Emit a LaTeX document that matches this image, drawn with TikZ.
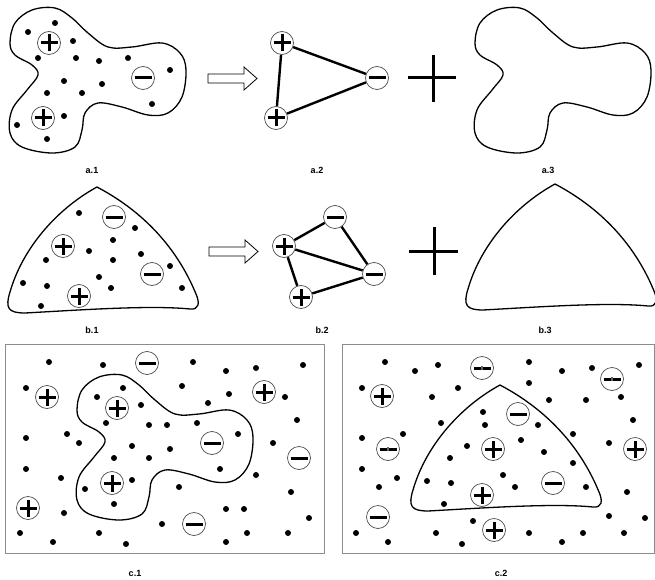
\documentclass[tikz,border=0pt]{standalone}
\usepackage{fontspec}
\setmainfont{Liberation Sans}
\newcommand{\blobshape}{plot[smooth cycle, tension=0.6] coordinates {(10,43) (15,23) (32,10) (55,8) (72,18) (88,33) (108,47) (132,47) (162,43) (180,53) (186,70) (182,97) (168,113) (148,115) (122,107) (98,103) (85,113) (82,130) (75,147) (52,153) (22,147) (10,133) (12,110) (27,90) (38,75) (32,65) (15,55)}}
\newcommand{\trishape}{(97,187) .. controls (55,210) and (22,250) .. (10,292) .. controls (5,308) and (8,313) .. (25,313) .. controls (80,310) and (150,305) .. (190,309) .. controls (199,310) and (200,303) .. (196,294) .. controls (180,255) and (150,215) .. (97,187) -- cycle}
\tikzset{
  charge/.style={circle, draw=black!70, line width=0.7pt, minimum size=23pt, inner sep=0pt, fill=white},
  signbar/.style={draw, line width=3pt, line cap=butt},
  poscharge/.style={charge, append after command={([xshift=-8.5pt]\tikzlastnode.center) edge[signbar] ([xshift=8.5pt]\tikzlastnode.center) ([yshift=-8.5pt]\tikzlastnode.center) edge[signbar] ([yshift=8.5pt]\tikzlastnode.center)}},
  negcharge/.style={charge, append after command={([xshift=-8.5pt]\tikzlastnode.center) edge[signbar] ([xshift=8.5pt]\tikzlastnode.center)}},
  negmark/.style={negcharge, append after command={([yshift=-2pt]\tikzlastnode.center) edge[draw, line width=1.2pt, black!60] ([yshift=2pt]\tikzlastnode.center)}},
  outline/.style={line width=1.3pt},
  bond/.style={line width=2.4pt},
  bigplus/.style={line width=3pt},
  hollowarrow/.style={draw, line width=0.8pt, fill=white},
  frame/.style={draw=black!45, line width=0.9pt},
  caption/.style={font=\fontsize{9}{10}\selectfont\bfseries, inner sep=0pt}
}
\begin{document}
\begin{tikzpicture}[x=1pt, y=-1pt]
	\useasboundingbox (0,0) rectangle (655,580);

	% a.1
	\draw[outline] \blobshape;
	\foreach \p in {(28,32),(55,23),(73,41),(38,58),(76,58),(99,61),(128,58),(170,70),(64,81),(102,84),(47,93),(82,93),(152,104),(64,116),(17,125),(47,139)}
		\fill \p circle (3);
	\node[poscharge] (aonep) at (49,43) {};
	\node[negcharge] (aonen) at (143,78) {};
	\node[poscharge] (aoneq) at (43,118) {};
	\node[caption] (capaone) at (92,170) {a.1};

	% a.2
	\draw[hollowarrow] (208,74) -- (244,74) -- (244,67) -- (257,78.5) -- (244,90) -- (244,83) -- (208,83) -- cycle;
	\node[poscharge] (atwop) at (282,43) {};
	\node[negcharge] (atwon) at (377,78) {};
	\node[poscharge] (atwoq) at (276,118) {};
	\draw[bond] (atwop) -- (atwon);
	\draw[bond] (atwoq) -- (atwon);
	\draw[bond] (atwop) -- (atwoq);
	\node[caption] (capatwo) at (317,170) {a.2};
	\draw[bigplus] (408,78) -- (456,78) (433,55) -- (433,102);

	% a.3
	\begin{scope}[shift={(465,0)}]
		\draw[outline] \blobshape;
	\end{scope}
	\node[caption] (capathree) at (548,170) {a.3};

	% b.1
	\draw[outline] \trishape;
	\foreach \p in {(79,213),(135,228),(113,240),(89,251),(46,260),(113,260),(141,254),(170,266),(99,277),(23,283),(47,286),(111,288),(182,288),(41,306)}
		\fill \p circle (3);
	\node[negcharge] (bonen) at (114,217) {};
	\node[poscharge] (bonep) at (63,246) {};
	\node[negcharge] (bonem) at (152,274) {};
	\node[poscharge] (boneq) at (79,296) {};
	\node[caption] (capbone) at (92,330) {b.1};

	% b.2
	\draw[hollowarrow] (209,247) -- (245,247) -- (245,240) -- (258,251.5) -- (245,263) -- (245,256) -- (209,256) -- cycle;
	\node[negcharge] (btwon) at (335,217) {};
	\node[poscharge] (btwop) at (284,246) {};
	\node[negcharge] (btwom) at (374,274) {};
	\node[poscharge] (btwoq) at (301,297) {};
	\draw[bond] (btwop) -- (btwon);
	\draw[bond] (btwop) -- (btwom);
	\draw[bond] (btwop) -- (btwoq);
	\draw[bond] (btwon) -- (btwom);
	\draw[bond] (btwoq) -- (btwom);
	\node[caption] (capbtwo) at (322,330) {b.2};
	\draw[bigplus] (409,251) -- (458,251) (434,227) -- (434,275);

	% b.3
	\begin{scope}[shift={(458,-3)}]
		\draw[outline] \trishape;
	\end{scope}
	\node[caption] (capbthree) at (545,330) {b.3};

	% c.1
	\draw[frame] (5,344) rectangle (324,553);
	\begin{scope}[shift={(67,367)}]
		\draw[outline] \blobshape;
	\end{scope}
	\foreach \p in {(49,362),(103,365),(193,362),(226,371),(256,368),(303,365),(26,388),(123,388),(97,397),(182,386),(229,394),(208,403),(285,397),(141,405),(106,423),(149,425),(167,425),(197,423),(297,420),(26,438),(67,434),(79,443),(132,446),(170,449),(238,434),(273,443),(114,458),(149,458),(26,469),(61,478),(132,480),(220,469),(256,475),(179,487),(291,492),(85,489),(114,504),(64,513),(226,509),(244,509),(309,518),(20,533),(53,542),(99,533),(126,544),(162,524),(226,542),(247,533),(288,533)}
		\fill \p circle (3);
	\node[poscharge] (conea) at (47,397) {};
	\node[negcharge] (coneb) at (147,363) {};
	\node[poscharge] (conec) at (117,408) {};
	\node[poscharge] (coned) at (264,392) {};
	\node[negcharge] (conee) at (212,443) {};
	\node[negcharge] (conef) at (299,458) {};
	\node[poscharge] (coneg) at (112,483) {};
	\node[poscharge] (coneh) at (28,508) {};
	\node[negcharge] (conei) at (194,524) {};
	\node[caption] (capcone) at (135,573) {c.1};

	% c.2
	\draw[frame] (342,344) rectangle (654,553);
	\begin{scope}[shift={(403,198)}]
		\draw[outline] \trishape;
	\end{scope}
	\foreach \p in {(385,362),(415,371),(438,365),(529,362),(562,371),(592,368),(639,365),(362,388),(458,388),(529,383),(432,397),(549,400),(586,400),(621,397),(483,412),(441,423),(485,425),(538,425),(633,420),(362,438),(403,434),(521,440),(467,446),(573,434),(609,443),(450,458),(544,452),(573,463),(362,469),(397,478),(427,481),(451,483),(503,475),(515,487),(586,487),(627,492),(379,487),(444,504),(473,521),(609,516),(645,518),(356,533),(388,542),(436,533),(462,544),(529,533),(562,542),(583,533),(624,533)}
		\fill \p circle (3);
	\node[negmark] (ctwoa) at (482,368) {};
	\node[negmark] (ctwob) at (612,379) {};
	\node[poscharge] (ctwoc) at (382,396) {};
	\node[negmark] (ctwod) at (388,449) {};
	\node[negcharge] (ctwoe) at (518,414) {};
	\node[poscharge] (ctwof) at (493,449) {};
	\node[poscharge] (ctwog) at (635,449) {};
	\node[negcharge] (ctwoh) at (553,483) {};
	\node[poscharge] (ctwoi) at (482,495) {};
	\node[negcharge] (ctwoj) at (378,517) {};
	\node[poscharge] (ctwok) at (494,530) {};
	\node[caption] (capctwo) at (501,573) {c.2};
\end{tikzpicture}
\end{document}
